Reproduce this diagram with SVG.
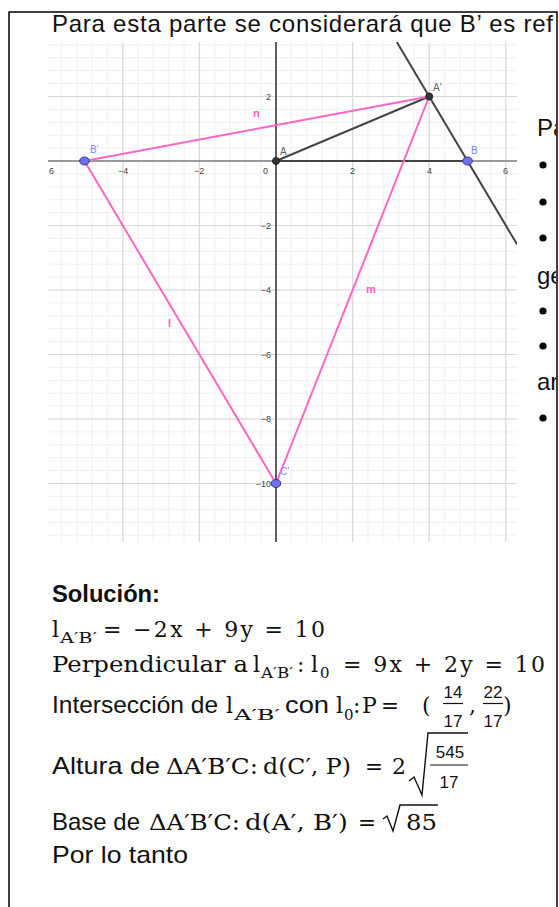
<svg xmlns="http://www.w3.org/2000/svg" width="559" height="907" viewBox="0 0 559 907">
<style>
.sans{font-family:"Liberation Sans",Arial,sans-serif;font-size:24px;fill:#111}
.bold{font-weight:bold}
.m{font-family:"DejaVu Serif","Liberation Serif",serif;font-size:22px;fill:#111}
.ms{font-family:"DejaVu Serif","Liberation Serif",serif;font-size:15px;fill:#111}
.fr{font-family:"Liberation Sans",Arial,sans-serif;font-size:17px;fill:#111;text-anchor:middle}
.tick{font-family:"Liberation Sans",Arial,sans-serif;font-size:9px;fill:#444}
.tickr{font-family:"Liberation Sans",Arial,sans-serif;font-size:9px;fill:#444;text-anchor:end}
.plab{font-family:"Liberation Sans",Arial,sans-serif;font-size:10px}
.llab{font-family:"Liberation Sans",Arial,sans-serif;font-size:11px;font-weight:bold;fill:#ff5fbf}
.pink{stroke:#ff66c4;stroke-width:2;fill:none}
.dark{stroke:#444;stroke-width:2;fill:none}
.bpt{fill:#6f6ff0;stroke:#33338a;stroke-width:1}
.dpt{fill:#333;stroke:#222;stroke-width:1}
.rule{stroke:#111;stroke-width:1.2;fill:none}
</style>
<defs>
<pattern id="minor" patternUnits="userSpaceOnUse" x="268.34" y="154.55" width="15.32" height="12.9">
<path d="M7.66 0V12.9M0 6.45H15.32" stroke="#eeeeee" stroke-width="1"/>
</pattern>
<pattern id="major" patternUnits="userSpaceOnUse" x="237.7" y="128.75" width="76.6" height="64.5">
<path d="M38.3 0V64.5M0 32.25H76.6" stroke="#d6d6d6" stroke-width="1"/>
</pattern>
<clipPath id="page"><rect x="0" y="0" width="556" height="907"/></clipPath>
<clipPath id="plot"><rect x="48" y="42" width="469" height="500"/></clipPath>
</defs>
<rect width="559" height="907" fill="#fff"/>
<path d="M9 907V12H557V907" fill="none" stroke="#000" stroke-width="1.5"/>

<g clip-path="url(#page)">
<text class="sans" x="52" y="32" textLength="501" lengthAdjust="spacing">Para esta parte se considerará que B’ es ref</text>
<text class="sans" x="537" y="136">Pa</text>
<text class="sans" x="537" y="284">ge</text>
<text class="sans" x="537" y="390">ar</text>
<g fill="#000">
<circle cx="543" cy="165" r="3.6"/><circle cx="543" cy="202" r="3.6"/><circle cx="543" cy="238" r="3.6"/>
<circle cx="543" cy="311" r="3.6"/><circle cx="543" cy="346" r="3.6"/><circle cx="543" cy="418" r="3.6"/>
</g>
</g>

<g id="plot-area" clip-path="url(#plot)">
<rect x="48" y="42" width="469" height="500" fill="#fff"/>
<rect x="48" y="42" width="469" height="500" fill="url(#minor)"/>
<rect x="48" y="42" width="469" height="500" fill="url(#major)"/>
<line x1="48" y1="161" x2="517" y2="161" stroke="#808080" stroke-width="1.5"/>
<line x1="276" y1="42" x2="276" y2="542" stroke="#505050" stroke-width="1.8"/>
<text class="tick" x="49" y="174">6</text>
<text class="tick" x="118" y="174">−4</text>
<text class="tick" x="194" y="174">−2</text>
<text class="tick" x="263" y="174">0</text>
<text class="tick" x="350" y="174">2</text>
<text class="tick" x="427" y="174">4</text>
<text class="tick" x="503" y="174">6</text>
<text class="tickr" x="271" y="100">2</text>
<text class="tickr" x="271" y="229">−2</text>
<text class="tickr" x="271" y="293">−4</text>
<text class="tickr" x="271" y="358">−6</text>
<text class="tickr" x="271" y="422">−8</text>
<text class="tickr" x="271" y="487">−10</text>

<g id="connectors">
<line class="dark" x1="396.8" y1="42" x2="517" y2="244.3"/>
<line class="dark" x1="276" y1="161" x2="467.5" y2="161"/>
<line class="dark" x1="276" y1="161" x2="429.2" y2="96.5" stroke="#555"/>
<line id="n" class="pink" x1="84.5" y1="161" x2="429.2" y2="96.5"/>
<line id="l" class="pink" x1="84.5" y1="161" x2="276" y2="483.5"/>
<line id="m" class="pink" x1="429.2" y1="96.5" x2="276" y2="483.5"/>
<text class="llab" x="253" y="117">n</text>
<text class="llab" x="168" y="327">l</text>
<text class="llab" x="366" y="293">m</text>
</g>

<g id="node-A"><circle class="dpt" cx="276" cy="161" r="3.5"/><text class="plab" x="280" y="155" fill="#666">A</text></g>
<g id="node-A1"><circle class="dpt" cx="429.2" cy="96.5" r="3.5"/><text class="plab" x="433" y="91" fill="#666">A'</text></g>
<g id="node-B"><ellipse class="bpt" cx="467.5" cy="161" rx="4.8" ry="4"/><text class="plab" x="471" y="154" fill="#7f7fff">B</text></g>
<g id="node-B1"><ellipse class="bpt" cx="84.5" cy="161" rx="4.8" ry="4"/><text class="plab" x="90" y="153" fill="#7f7fff">B'</text></g>
<g id="node-C1"><ellipse class="bpt" cx="276" cy="483.5" rx="4.8" ry="4"/><text class="plab" x="280" y="475" fill="#7f7fff">C'</text></g>
</g>

<g id="solution">
<text class="sans bold" x="52" y="602" textLength="108" lengthAdjust="spacingAndGlyphs">Solución:</text>

<text class="m" x="52" y="637">l</text>
<text class="ms" x="60" y="643" textLength="37" lengthAdjust="spacingAndGlyphs">A′B′</text>
<text class="m" x="103" y="637" textLength="222" lengthAdjust="spacing">= −2x + 9y = 10</text>

<text class="m" x="52" y="672" textLength="196" lengthAdjust="spacingAndGlyphs">Perpendicular a</text>
<text class="m" x="253" y="672">l</text>
<text class="ms" x="261" y="678" textLength="32" lengthAdjust="spacingAndGlyphs">A′B′</text>
<text class="m" x="297" y="672">:</text>
<text class="m" x="311" y="672">l</text>
<text class="ms" x="320" y="678">0</text>
<text class="m" x="343" y="672" textLength="202" lengthAdjust="spacing">= 9x + 2y = 10</text>

<text class="sans" x="52" y="713" textLength="166" lengthAdjust="spacingAndGlyphs">Intersección de</text>
<text class="m" x="226" y="713">l</text>
<text class="ms" x="234" y="720" textLength="46" lengthAdjust="spacingAndGlyphs">A′B′</text>
<text class="sans" x="285" y="713" textLength="44" lengthAdjust="spacingAndGlyphs">con</text>
<text class="m" x="336" y="713">l</text>
<text class="ms" x="344" y="720">0</text>
<text class="m" x="353" y="713">:</text>
<text class="m" x="362" y="713">P</text>
<text class="m" x="381" y="713" textLength="18" lengthAdjust="spacingAndGlyphs">=</text>
<text class="m" x="422" y="713">(</text>
<text class="fr" x="453" y="698">14</text>
<line class="rule" x1="443" y1="703.5" x2="463" y2="703.5"/>
<text class="fr" x="453" y="727">17</text>
<text class="m" x="469" y="713">,</text>
<text class="fr" x="493" y="698">22</text>
<line class="rule" x1="483" y1="703.5" x2="503" y2="703.5"/>
<text class="fr" x="493" y="727">17</text>
<text class="m" x="503" y="713">)</text>

<text class="sans" x="52" y="774" textLength="108" lengthAdjust="spacingAndGlyphs">Altura de</text>
<text class="m" x="166" y="774" textLength="92" lengthAdjust="spacingAndGlyphs">ΔA′B′C:</text>
<text class="m" x="263" y="774" textLength="88" lengthAdjust="spacingAndGlyphs">d(C′, P)</text>
<text class="m" x="365" y="774" textLength="18" lengthAdjust="spacingAndGlyphs">=</text>
<text class="m" x="392" y="774">2</text>
<path d="M409 781L414 777L422 795L428 733H468" fill="none" stroke="#111" stroke-width="1.4"/>
<text class="fr" x="450" y="758">545</text>
<line class="rule" x1="430" y1="765" x2="468" y2="765"/>
<text class="fr" x="449" y="788">17</text>

<text class="sans" x="52" y="830" textLength="88" lengthAdjust="spacingAndGlyphs">Base de</text>
<text class="m" x="149" y="830" textLength="91" lengthAdjust="spacingAndGlyphs">ΔA′B′C:</text>
<text class="m" x="245" y="830" textLength="103" lengthAdjust="spacingAndGlyphs">d(A′, B′)</text>
<text class="m" x="358" y="830" textLength="18" lengthAdjust="spacingAndGlyphs">=</text>
<path d="M383 819L387 816L393 831L400 805H438" fill="none" stroke="#111" stroke-width="1.4"/>
<text class="m" x="406" y="830" textLength="31" lengthAdjust="spacingAndGlyphs">85</text>

<text class="sans" x="52" y="863" textLength="136" lengthAdjust="spacingAndGlyphs">Por lo tanto</text>
</g>
</svg>
